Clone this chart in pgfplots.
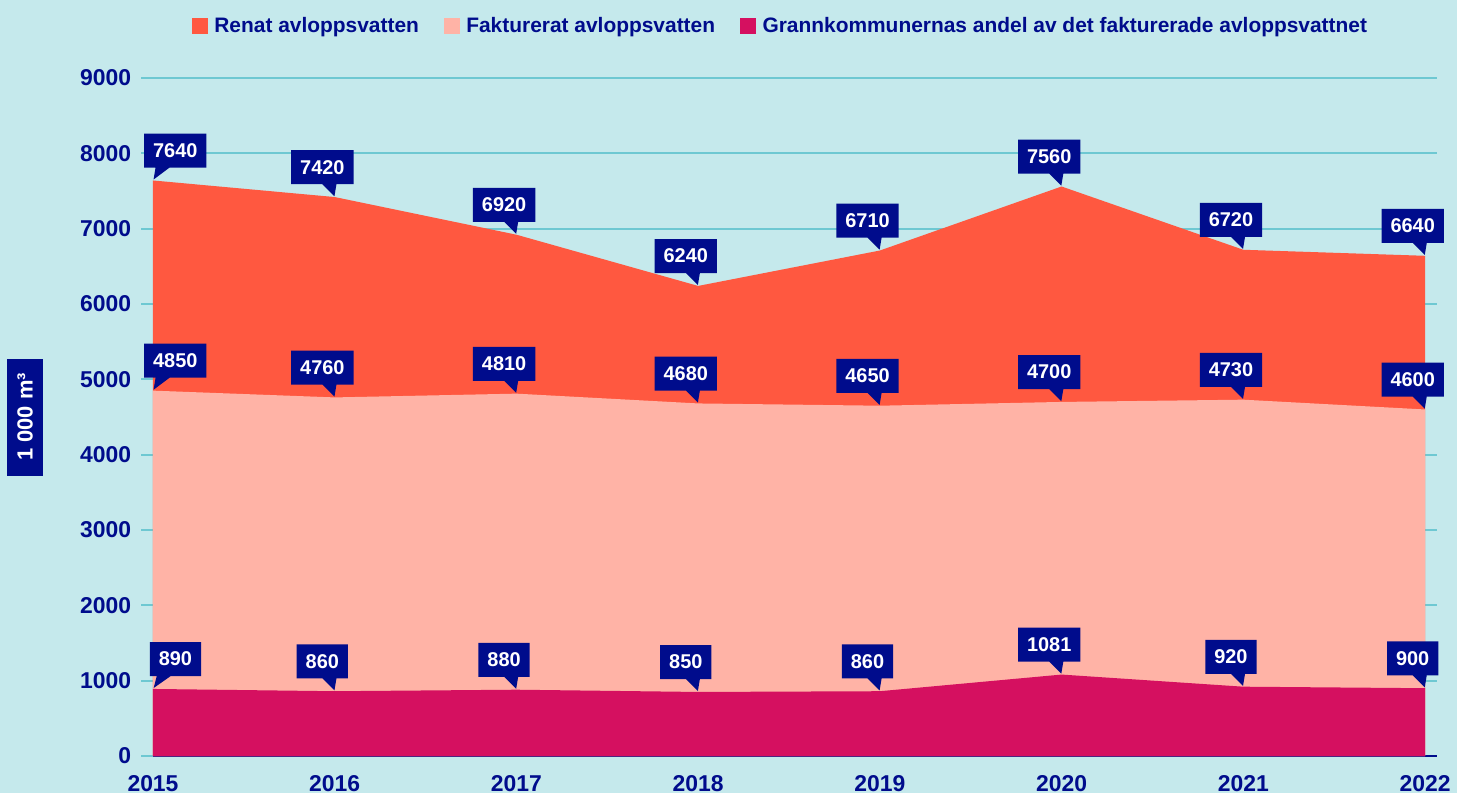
\documentclass[border=0pt]{standalone}
\usepackage{fontspec}
\setmainfont{Liberation Sans}
\usepackage{pgfplots}
\pgfplotsset{compat=1.18}
\usetikzlibrary{shapes.callouts}
\definecolor{bg}{RGB}{197,233,236}
\definecolor{gridc}{RGB}{110,200,210}
\definecolor{navy}{RGB}{0,12,140}
\definecolor{renat}{RGB}{255,88,64}
\definecolor{fakt}{RGB}{255,179,166}
\definecolor{grann}{RGB}{213,16,96}
\tikzset{
  callout/.style={rectangle callout, fill=navy, text=white,
    font=\bfseries\fontsize{10}{12}\selectfont, inner xsep=4.5bp, inner ysep=0pt,
    minimum height=17bp, callout pointer width=7bp, anchor=pointer},
  % pointer offsets (tuned by eye)
  othercallout/.style={callout relative pointer={(2.5bp,-6bp)}, anchor=pointer},
  firstcallout/.style={callout relative pointer={(-4.5bp,-6bp)}, anchor=pointer}
}
\begin{document}
\begin{tikzpicture}
\fill[bg, use as bounding box] (-76.5bp,-18.5bp) rectangle (652bp,378bp);
\begin{axis}[
  scale only axis, width=642bp, height=339bp,
  xmin=2015, xmax=2022.066, ymin=0, ymax=9000,
  clip=false,
  axis lines*=left,
  y axis line style={draw=none},
  x axis line style={navy, line width=1.2bp},
  xtick={2015,2016,...,2022},
  ytick={1000,2000,...,9000},
  extra y ticks={0},
  extra y tick style={grid=none, tick style={navy, line width=1.2bp}},
  ymajorgrids,
  grid style={gridc, line width=1bp},
  tick align=outside,
  major tick length=6bp,
  ytick style={gridc, line width=1bp},
  xtick style={draw=none},
  ticklabel style={font=\bfseries\fontsize{11.5}{13}\selectfont, text=navy},
  yticklabel style={xshift=-1.5bp},
  /pgf/number format/assume math mode=true,
  /pgf/number format/1000 sep={},
  every axis y label/.style={at={(axis description cs:0,0.5)}, xshift=-64bp, rotate=90, anchor=center},
  ylabel={1 000 m³},
  ylabel style={fill=navy, text=white, font=\bfseries\fontsize{11}{13}\selectfont,
    minimum width=58.5bp, minimum height=18bp, inner sep=0pt},
  legend columns=-1,
  legend style={at={(0.4895,1)}, anchor=center, yshift=26bp, draw=none, fill=none,
    font=\bfseries\fontsize{10.5}{12}\selectfont, text=navy,
    /tikz/every even column/.append style={column sep=10.5bp}},
  legend image code/.code={\fill[#1] (0bp,-4bp) rectangle (8bp,4bp); \path (9.2bp,0bp);},
  nodes near coords,
  nodes near coords style={callout},
  coordinate style/.condition={\coordindex==0}{firstcallout},
  coordinate style/.condition={\coordindex>0}{othercallout},
]
\addplot[fill=renat, draw=none] coordinates {
  (2015,7640) (2016,7420) (2017,6920) (2018,6240)
  (2019,6710) (2020,7560) (2021,6720) (2022,6640)} \closedcycle;
\addlegendentry{Renat avloppsvatten}
\addplot[fill=fakt, draw=none] coordinates {
  (2015,4850) (2016,4760) (2017,4810) (2018,4680)
  (2019,4650) (2020,4700) (2021,4730) (2022,4600)} \closedcycle;
\addlegendentry{Fakturerat avloppsvatten}
\addplot[fill=grann, draw=none] coordinates {
  (2015,890) (2016,860) (2017,880) (2018,850)
  (2019,860) (2020,1081) (2021,920) (2022,900)} \closedcycle;
\addlegendentry{Grannkommunernas andel av det fakturerade avloppsvattnet}
\end{axis}
\end{tikzpicture}
\end{document}
